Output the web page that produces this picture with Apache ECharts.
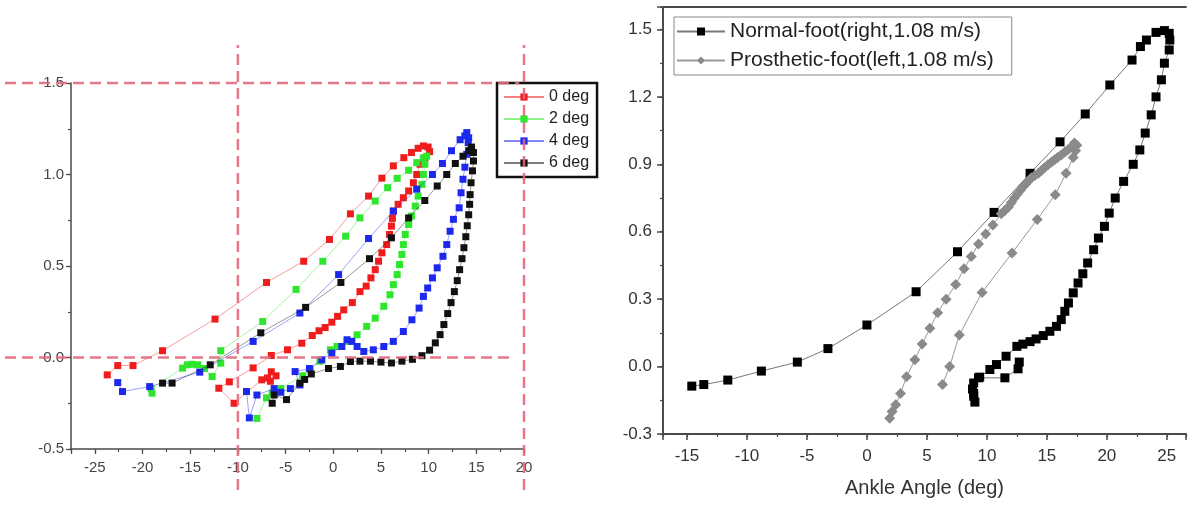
<!DOCTYPE html>
<html><head><meta charset="utf-8">
<script src="https://cdn.jsdelivr.net/npm/echarts@6/dist/echarts.min.js"></script>
<style>html,body{margin:0;padding:0;background:#fff}#c{width:1189px;height:506px}</style>
</head><body><div id="c"></div>
<script>
// ---------------- DATA ----------------
const leftNames = ['0 deg', '2 deg', '4 deg', '6 deg'];
const rightNames = ['Normal-foot(right,1.08 m/s)', 'Prosthetic-foot(left,1.08 m/s)'];
const rightXTitle = 'Ankle Angle (deg)';

const deg0 = [[-23.7,-0.095],[-22.6,-0.044],[-21.0,-0.044],[-17.9,0.037],[-12.4,0.21],[-7.0,0.41],[-3.1,0.526],[-0.4,0.645],[1.8,0.785],[3.7,0.882],[5.1,0.98],[6.3,1.047],[7.4,1.092],[8.2,1.12],[8.9,1.143],[9.45,1.156],[9.95,1.15],[10.1,1.125],[9.6,1.09],[9.1,1.056],[8.75,1.0],[8.4,0.955],[7.9,0.91],[7.35,0.873],[6.8,0.837],[6.3,0.8],[6.2,0.76],[6.1,0.718],[5.9,0.672],[5.6,0.617],[5.1,0.572],[4.75,0.526],[4.4,0.48],[3.95,0.435],[3.45,0.39],[2.8,0.36],[2.0,0.3],[1.1,0.26],[0.45,0.225],[-0.15,0.193],[-0.85,0.164],[-1.5,0.146],[-2.2,0.12],[-3.3,0.078],[-4.8,0.042],[-6.5,0.011],[-8.4,-0.057],[-10.9,-0.133],[-12.0,-0.168],[-10.4,-0.25],[-7.5,-0.122],[-6.9,-0.112],[-6.5,-0.078],[-6.6,-0.13],[-6.0,-0.1]];
const deg2 = [[-19.0,-0.195],[-19.1,-0.17],[-15.8,-0.058],[-15.3,-0.04],[-14.8,-0.037],[-14.2,-0.04],[-13.5,-0.06],[-12.7,-0.104],[-11.8,-0.031],[-11.8,0.037],[-7.4,0.197],[-3.9,0.372],[-1.1,0.526],[1.3,0.663],[2.8,0.763],[4.4,0.855],[5.7,0.928],[6.7,0.979],[7.9,1.023],[8.75,1.065],[9.45,1.09],[9.8,1.1],[9.6,1.056],[9.45,1.0],[9.3,0.946],[8.9,0.882],[8.6,0.827],[8.2,0.773],[7.9,0.727],[7.55,0.672],[7.35,0.617],[7.2,0.563],[6.95,0.508],[6.7,0.453],[6.3,0.398],[5.95,0.343],[5.3,0.28],[4.4,0.215],[3.5,0.17],[2.5,0.124],[1.45,0.088],[0.4,0.06],[-0.3,0.042],[-1.4,-0.02],[-2.4,-0.068],[-3.2,-0.1],[-5.5,-0.17],[-6.4,-0.195],[-7.0,-0.22],[-8.0,-0.333]];
const deg4 = [[-22.6,-0.137],[-22.1,-0.186],[-19.25,-0.159],[-14.0,-0.08],[-8.4,0.088],[-3.5,0.243],[0.56,0.453],[3.7,0.65],[6.3,0.8],[8.75,0.92],[10.4,1.0],[11.45,1.06],[12.4,1.13],[13.3,1.19],[13.8,1.211],[14.0,1.229],[14.2,1.2],[14.15,1.174],[14.0,1.11],[13.8,1.04],[13.6,0.974],[13.4,0.9],[13.2,0.818],[12.6,0.755],[12.25,0.69],[11.9,0.617],[11.5,0.553],[10.9,0.49],[10.4,0.435],[9.9,0.38],[9.45,0.334],[9.0,0.27],[8.25,0.206],[7.35,0.142],[6.3,0.088],[5.3,0.06],[4.2,0.042],[3.2,0.033],[2.5,0.06],[1.95,0.088],[1.45,0.097],[0.9,0.06],[-0.15,0.024],[-1.2,-0.013],[-2.5,-0.06],[-4.0,-0.077],[-3.5,-0.15],[-4.5,-0.17],[-5.5,-0.19],[-6.2,-0.17],[-8.0,-0.205],[-8.8,-0.33],[-9.1,-0.186]];
const deg6 = [[-17.9,-0.14],[-16.9,-0.14],[-12.9,-0.04],[-7.6,0.135],[-2.9,0.274],[0.8,0.41],[3.8,0.54],[6.1,0.654],[7.9,0.763],[9.6,0.858],[10.9,0.937],[11.9,1.0],[12.8,1.06],[13.6,1.1],[14.2,1.13],[14.5,1.15],[14.7,1.12],[14.7,1.074],[14.6,1.02],[14.45,0.955],[14.35,0.89],[14.3,0.837],[14.2,0.78],[14.05,0.72],[13.9,0.66],[13.7,0.6],[13.5,0.54],[13.25,0.48],[13.0,0.42],[12.7,0.36],[12.35,0.3],[12.0,0.24],[11.6,0.18],[11.2,0.125],[10.7,0.08],[10.1,0.04],[9.3,0.01],[8.3,-0.01],[7.2,-0.02],[6.1,-0.03],[5.0,-0.025],[3.9,-0.02],[2.8,-0.02],[1.8,-0.022],[0.75,-0.049],[-0.5,-0.06],[-2.3,-0.09],[-3.0,-0.12],[-3.5,-0.14],[-4.9,-0.23],[-6.2,-0.205],[-6.4,-0.25]];

const normalFoot = [[-14.6,-0.087],[-13.6,-0.08],[-11.6,-0.06],[-8.8,-0.02],[-5.8,0.02],[-3.25,0.08],[0.0,0.185],[4.1,0.333],[7.55,0.511],[10.6,0.686],[13.6,0.86],[16.1,1.0],[18.2,1.124],[20.25,1.253],[22.1,1.364],[22.8,1.424],[23.3,1.453],[24.1,1.487],[24.8,1.495],[25.2,1.483],[25.25,1.453],[25.2,1.409],[24.8,1.35],[24.55,1.276],[24.1,1.2],[23.7,1.12],[23.2,1.039],[22.75,0.964],[22.2,0.9],[21.4,0.824],[20.7,0.75],[20.2,0.683],[19.8,0.624],[19.3,0.572],[18.9,0.52],[18.4,0.461],[18.0,0.413],[17.6,0.372],[17.2,0.328],[16.8,0.283],[16.5,0.246],[16.2,0.209],[15.8,0.179],[15.25,0.157],[14.7,0.138],[14.1,0.123],[13.6,0.111],[13.0,0.1],[12.5,0.09],[11.6,0.046],[10.8,0.009],[10.25,-0.013],[9.4,-0.047],[8.9,-0.073],[8.8,-0.1],[8.9,-0.132],[9.0,-0.158],[8.9,-0.12],[9.3,-0.05],[11.5,-0.05],[12.6,-0.01],[12.7,0.02]];
const prostheticFoot = [[1.9,-0.23],[2.1,-0.2],[2.4,-0.17],[2.8,-0.12],[3.3,-0.045],[4.0,0.03],[4.6,0.1],[5.25,0.17],[5.9,0.24],[6.6,0.3],[7.4,0.365],[8.1,0.435],[8.7,0.49],[9.3,0.545],[9.9,0.59],[10.5,0.63],[11.2,0.68],[11.5,0.695],[11.8,0.71],[12.05,0.73],[12.3,0.75],[12.55,0.768],[12.8,0.785],[13.0,0.8],[13.2,0.81],[13.45,0.825],[13.7,0.84],[14.0,0.85],[14.3,0.86],[14.55,0.872],[14.8,0.885],[15.1,0.898],[15.4,0.91],[15.65,0.92],[15.9,0.93],[16.2,0.942],[16.5,0.955],[16.75,0.965],[17.0,0.975],[17.3,0.995],[17.5,0.985],[17.4,0.96],[17.2,0.93],[16.6,0.86],[15.7,0.765],[14.2,0.655],[12.1,0.505],[9.6,0.33],[7.7,0.14],[6.9,0.0],[6.3,-0.08]];

// reference (dashed) lines of the left panel, in data units
const refHorizontalY = [1.5, 0.0];
const refHorizontalEndX = [19.5, 18.8];
const refVerticalX = [-10, 20];

// ---------------- LAYOUT ----------------
const FONT = 'Liberation Sans, Arial, sans-serif';
const LG = {left: 71, top: 83, width: 453, height: 366, xmin: -27.5, xmax: 20, ymin: -0.5, ymax: 1.5};
const OV = {left: 5, top: 45, right: 530, bottom: 490};
const pxX = LG.width / (LG.xmax - LG.xmin), pxY = LG.height / (LG.ymax - LG.ymin);
const ov = {
  xmin: LG.xmin - (LG.left - OV.left) / pxX,
  xmax: LG.xmin + (OV.right - LG.left) / pxX,
  ymax: LG.ymax + (LG.top - OV.top) / pxY,
  ymin: LG.ymin - (OV.bottom - (LG.top + LG.height)) / pxY
};
const RG = {left: 663, top: 7, width: 524, height: 427, xmin: -17, xmax: 26.6, ymin: -0.3, ymax: 1.6};

const mult = (v, s) => Math.abs(v / s - Math.round(v / s)) < 1e-6;
const axisCol = '#4a4a4a';

const leftColors = ['#f01c1c', '#2ee62e', '#1c28ee', '#111111'];
const leftData = [deg0, deg2, deg4, deg6];

const series = [];
leftData.forEach((d, i) => {
  series.push({
    name: leftNames[i], type: 'line', xAxisIndex: 0, yAxisIndex: 0, data: d,
    symbol: 'rect', symbolSize: 7, showSymbol: true,
    itemStyle: {color: leftColors[i]},
    lineStyle: {color: leftColors[i], width: 0.8, opacity: 0.55},
    z: 3 + i
  });
});
const dashStyle = {color: '#e2687c', width: 2.5, type: [11, 6], opacity: 0.9};
refHorizontalY.forEach((v, i) => {
  series.push({type: 'line', xAxisIndex: 2, yAxisIndex: 2, silent: true, symbol: 'none',
    data: [[ov.xmin, v], [refHorizontalEndX[i], v]], lineStyle: dashStyle, z: 10});
});
refVerticalX.forEach(v => {
  series.push({type: 'line', xAxisIndex: 2, yAxisIndex: 2, silent: true, symbol: 'none',
    data: [[v, ov.ymin], [v, ov.ymax]], lineStyle: dashStyle, z: 10});
});
series.push({
  name: rightNames[0], type: 'line', xAxisIndex: 3, yAxisIndex: 3, data: normalFoot,
  symbol: 'rect', symbolSize: 9, itemStyle: {color: '#000'},
  lineStyle: {color: '#777', width: 1}, z: 3
});
series.push({
  name: rightNames[1], type: 'line', xAxisIndex: 3, yAxisIndex: 3, data: prostheticFoot,
  symbol: 'diamond', symbolSize: 11, itemStyle: {color: '#8a8a8a'},
  lineStyle: {color: '#999', width: 1}, z: 4
});

const hiddenAxis = (grid, min, max) => ({gridIndex: grid, type: 'value', min, max, show: false});
const minorAxis = (grid, min, max, step, pos, useInterval) => {
  const a = {gridIndex: grid, type: 'value', min, max, position: pos,
    axisLine: {show: false, onZero: false}, axisLabel: {show: false},
    axisTick: {show: true, length: 3, lineStyle: {color: axisCol, width: 1.2}},
    splitLine: {show: false}};
  if (useInterval) a.interval = step; else { a.minInterval = step; a.maxInterval = step; a.splitNumber = 30; }
  return a;
};

const option = {
  animation: false,
  backgroundColor: '#fff',
  textStyle: {fontFamily: FONT},
  grid: [
    {left: LG.left, top: LG.top, width: LG.width, height: LG.height},
    {left: OV.left, top: OV.top, width: OV.right - OV.left, height: OV.bottom - OV.top},
    {left: RG.left, top: RG.top, width: RG.width, height: RG.height}
  ],
  xAxis: [
    {gridIndex: 0, type: 'value', min: LG.xmin, max: LG.xmax, minInterval: 5, maxInterval: 5, splitNumber: 10,
      position: 'bottom',
      axisLine: {onZero: false, lineStyle: {color: axisCol, width: 1.5}},
      axisTick: {length: 5, lineStyle: {color: axisCol, width: 1.2}},
      axisLabel: {fontSize: 15, color: '#444', margin: 11, fontFamily: FONT,
        formatter: v => mult(v, 5) ? String(Math.round(v)) : ''},
      splitLine: {show: false}},
    minorAxis(0, LG.xmin, LG.xmax, 2.5, 'bottom', true),
    hiddenAxis(1, ov.xmin, ov.xmax),
    {gridIndex: 2, type: 'value', min: RG.xmin, max: RG.xmax, minInterval: 5, maxInterval: 5, splitNumber: 10,
      position: 'bottom',
      name: rightXTitle, nameLocation: 'middle', nameGap: 44,
      nameTextStyle: {fontSize: 20, color: '#333', fontFamily: FONT},
      axisLine: {onZero: false, lineStyle: {color: axisCol, width: 2}},
      axisTick: {length: 6, lineStyle: {color: axisCol, width: 1.5}},
      axisLabel: {fontSize: 17, color: '#333', margin: 14, fontFamily: FONT,
        formatter: v => mult(v, 5) ? String(Math.round(v)) : ''},
      splitLine: {show: false}},
    minorAxis(2, RG.xmin, RG.xmax, 2.5, 'bottom', false),
    {gridIndex: 2, type: 'value', min: RG.xmin, max: RG.xmax, position: 'top',
      axisLine: {onZero: false, lineStyle: {color: axisCol, width: 2}},
      axisTick: {show: false}, axisLabel: {show: false}, splitLine: {show: false}}
  ],
  yAxis: [
    {gridIndex: 0, type: 'value', min: LG.ymin, max: LG.ymax, interval: 0.5, position: 'left',
      axisLine: {show: true, onZero: false, lineStyle: {color: axisCol, width: 1.5}},
      axisTick: {show: true, length: 5, lineStyle: {color: axisCol, width: 1.2}},
      axisLabel: {fontSize: 15, color: '#444', margin: 7, fontFamily: FONT,
        formatter: v => mult(v, 0.5) ? v.toFixed(1) : ''},
      splitLine: {show: false}},
    minorAxis(0, LG.ymin, LG.ymax, 0.25, 'left', true),
    hiddenAxis(1, ov.ymin, ov.ymax),
    {gridIndex: 2, type: 'value', min: RG.ymin, max: RG.ymax, interval: 0.3, position: 'left',
      axisLine: {show: true, onZero: false, lineStyle: {color: axisCol, width: 2}},
      axisTick: {show: true, length: 6, lineStyle: {color: axisCol, width: 1.5}},
      axisLabel: {fontSize: 17, color: '#333', margin: 11, fontFamily: FONT,
        formatter: v => mult(v, 0.3) ? v.toFixed(1) : ''},
      splitLine: {show: false}},
    minorAxis(2, RG.ymin, RG.ymax, 0.15, 'left', true)
  ],
  legend: [
    {data: leftNames, orient: 'vertical', left: 497, top: 83, width: 101,
      backgroundColor: 'rgba(255,255,255,0)', borderColor: '#111', borderWidth: 2.5,
      padding: [6, 8, 6, 6], itemGap: 6, itemWidth: 40, itemHeight: 9,
      textStyle: {fontSize: 16, color: '#222', fontFamily: FONT}, selectedMode: false},
    {data: rightNames, orient: 'vertical', left: 674, top: 17,
      backgroundColor: '#fff', borderColor: '#888', borderWidth: 1,
      padding: [4, 18, 4, 2], itemGap: 8, itemWidth: 48, itemHeight: 10,
      textStyle: {fontSize: 21, color: '#222', fontFamily: FONT}, selectedMode: false}
  ],
  series
};
const chart = echarts.init(document.getElementById('c'), null, {renderer: 'canvas'});
chart.setOption(option);
</script>
</body></html>
